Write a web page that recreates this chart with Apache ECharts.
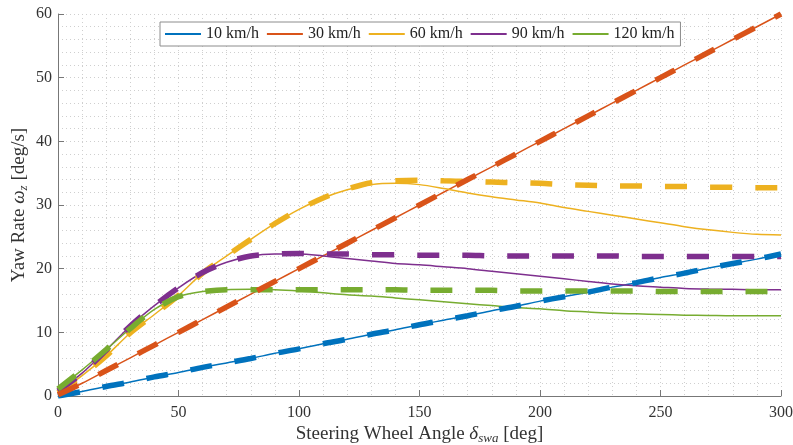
<!DOCTYPE html>
<html>
<head>
<meta charset="utf-8">
<script src="https://cdn.jsdelivr.net/npm/echarts@6/dist/echarts.min.js"></script>
<style>
html,body{margin:0;padding:0;background:#fff;}
#c{width:793px;height:445px;}
</style>
</head>
<body>
<div id="c"></div>
<script>
// Steering wheel angle [deg]
const angles = [0,10,20,30,40,50,60,70,80,90,100,110,120,130,140,150,160,170,180,190,200,210,220,230,240,250,260,270,280,290,300];

// Solid curves (yaw rate, deg/s)
const solid10  = [0,0.7,1.5,2.2,3.0,3.7,4.5,5.2,5.9,6.7,7.4,8.2,8.9,9.7,10.4,11.2,11.9,12.6,13.4,14.1,14.9,15.6,16.3,17.1,17.8,18.6,19.3,20.1,20.8,21.5,22.3];
const solid30  = [0.2,2.0,4.0,6.0,8.0,10.0,12.0,14.0,16.0,18.0,20.0,22.0,24.0,26.0,28.0,30.0,32.0,34.0,36.0,38.0,40.0,42.0,44.0,46.0,48.0,50.0,52.0,54.0,56.0,58.0,60.0];
const solid60  = [0.5,3.2,6.3,9.9,12.8,15.8,19.3,22.0,24.6,27.1,29.3,31.1,32.4,33.2,33.4,33.2,32.6,31.9,31.3,30.8,30.3,29.6,29.0,28.4,27.8,27.2,26.6,26.1,25.7,25.4,25.3];
const solid90  = [0.8,3.6,7.2,11.0,14.2,17.0,19.4,21.0,22.0,22.3,22.3,22.0,21.6,21.2,20.8,20.6,20.3,20.0,19.6,19.2,18.8,18.4,18.0,17.6,17.3,17.1,16.9,16.8,16.75,16.7,16.7];
const solid120 = [1.1,4.1,7.3,10.6,13.6,15.6,16.4,16.7,16.75,16.7,16.5,16.2,15.9,15.7,15.4,15.1,14.8,14.5,14.2,13.9,13.7,13.4,13.2,13.0,12.9,12.8,12.7,12.65,12.6,12.6,12.6];

// Dashed curves (yaw rate, deg/s)
const dash10  = [0,0.7,1.5,2.2,3.0,3.7,4.5,5.2,5.9,6.7,7.4,8.2,8.9,9.7,10.4,11.2,11.9,12.6,13.4,14.1,14.9,15.6,16.3,17.1,17.8,18.6,19.3,20.1,20.8,21.5,22.3];
const dash30  = [0.2,2.0,4.0,6.0,8.0,10.0,12.0,14.0,16.0,18.0,20.0,22.0,24.0,26.0,28.0,30.0,32.0,34.0,36.0,38.0,40.0,42.0,44.0,46.0,48.0,50.0,52.0,54.0,56.0,58.0,60.0];
const dash60  = [0.5,3.2,6.3,9.9,12.8,15.8,19.3,22.0,24.6,27.1,29.3,31.1,32.5,33.5,33.8,33.9,33.8,33.7,33.6,33.5,33.4,33.2,33.1,33.0,33.0,32.9,32.9,32.8,32.8,32.7,32.7];
const dash90  = [0.8,3.6,7.2,11.0,14.2,17.0,19.4,21.0,22.0,22.3,22.4,22.3,22.3,22.2,22.2,22.1,22.1,22.1,22.0,22.0,22.0,22.0,22.0,22.0,21.9,21.9,21.9,21.9,21.9,21.9,21.9];
const dash120 = [1.1,4.1,7.3,10.6,13.6,15.6,16.4,16.7,16.7,16.7,16.7,16.7,16.7,16.7,16.7,16.6,16.6,16.6,16.6,16.5,16.5,16.5,16.5,16.5,16.5,16.4,16.4,16.4,16.4,16.4,16.4];

const speedNames = ['10 km/h','30 km/h','60 km/h','90 km/h','120 km/h'];
const colors = ['#0072BD','#D95319','#EDB120','#7E2F8E','#77AC30'];
const xTicks = {min:0, max:300, step:50};
const yTicks = {min:0, max:60, step:10};

const solids = [solid10, solid30, solid60, solid90, solid120];
const dashes = [dash10, dash30, dash60, dash90, dash120];
const pair = arr => angles.map((a,i)=>[a, arr[i]]);

const FONT = 'Liberation Serif';
const series = [];
solids.forEach((s,i)=>{
  series.push({
    name: speedNames[i], type:'line', data: pair(s), showSymbol:false, smooth:0.3,
    lineStyle:{color:colors[i], width:1.5}, itemStyle:{color:colors[i]}, z:2
  });
});
const dashZ = [5,6,3,4,4.5];
dashes.forEach((s,i)=>{
  series.push({
    name: speedNames[i] + ' (ref)', type:'line', data: pair(s), showSymbol:false, smooth:0.3,
    lineStyle:{color:colors[i], width:5.5, type:[22,23], cap:'butt'}, itemStyle:{color:colors[i]}, z:dashZ[i]
  });
});

const nameRich = {
  n:{fontFamily:FONT, fontSize:19, color:'#333', lineHeight:22},
  i:{fontFamily:FONT, fontSize:19, fontStyle:'italic', color:'#333', lineHeight:22},
  s:{fontFamily:FONT, fontSize:13, fontStyle:'italic', color:'#333', lineHeight:9, verticalAlign:'bottom'}
};
const gridLine = {show:true, lineStyle:{color:'#cfcfcf', type:[1,3], width:1}};
const chart = echarts.init(document.getElementById('c'), null, {renderer:'canvas'});
chart.setOption({
  animation:false,
  backgroundColor:'#fff',
  grid:{left:58, right:12, top:14, bottom:49, containLabel:false, outerBoundsMode:'none'},
  legend:{
    data: speedNames, left:160, top:22, orient:'horizontal',
    icon:'rect', itemWidth:36, itemHeight:2, itemGap:8,
    padding:[4,6,4,5], borderColor:'#8c8c8c', borderWidth:1, backgroundColor:'#fff',
    textStyle:{fontFamily:FONT, fontSize:16, color:'#222'}
  },
  xAxis:{
    type:'value', min:xTicks.min, max:xTicks.max, interval:xTicks.step,
    name:'{n|Steering Wheel Angle }{i|δ}{s|swa}{n| [deg]}',
    nameLocation:'middle', nameGap:27, nameMoveOverlap:false,
    nameTextStyle:{rich:nameRich},
    axisLine:{show:true, lineStyle:{color:'#777', width:1}},
    axisTick:{show:true, inside:true, length:6, lineStyle:{color:'#777'}},
    axisLabel:{fontFamily:FONT, fontSize:16, color:'#333', margin:9},
    splitLine:gridLine,
    minorTick:{show:false, splitNumber:5},
    minorSplitLine:gridLine
  },
  yAxis:{
    type:'value', min:yTicks.min, max:yTicks.max, interval:yTicks.step,
    name:'{n|Yaw Rate }{i|ω}{s|z}{n| [deg/s]}',
    nameLocation:'middle', nameGap:28, nameRotate:90, nameMoveOverlap:false,
    nameTextStyle:{rich:nameRich},
    axisLine:{show:true, lineStyle:{color:'#777', width:1}},
    axisTick:{show:true, inside:true, length:6, lineStyle:{color:'#777'}},
    axisLabel:{fontFamily:FONT, fontSize:16, color:'#333', margin:6},
    splitLine:gridLine,
    minorTick:{show:false, splitNumber:5},
    minorSplitLine:gridLine
  },
  series: series
});
</script>
</body>
</html>
